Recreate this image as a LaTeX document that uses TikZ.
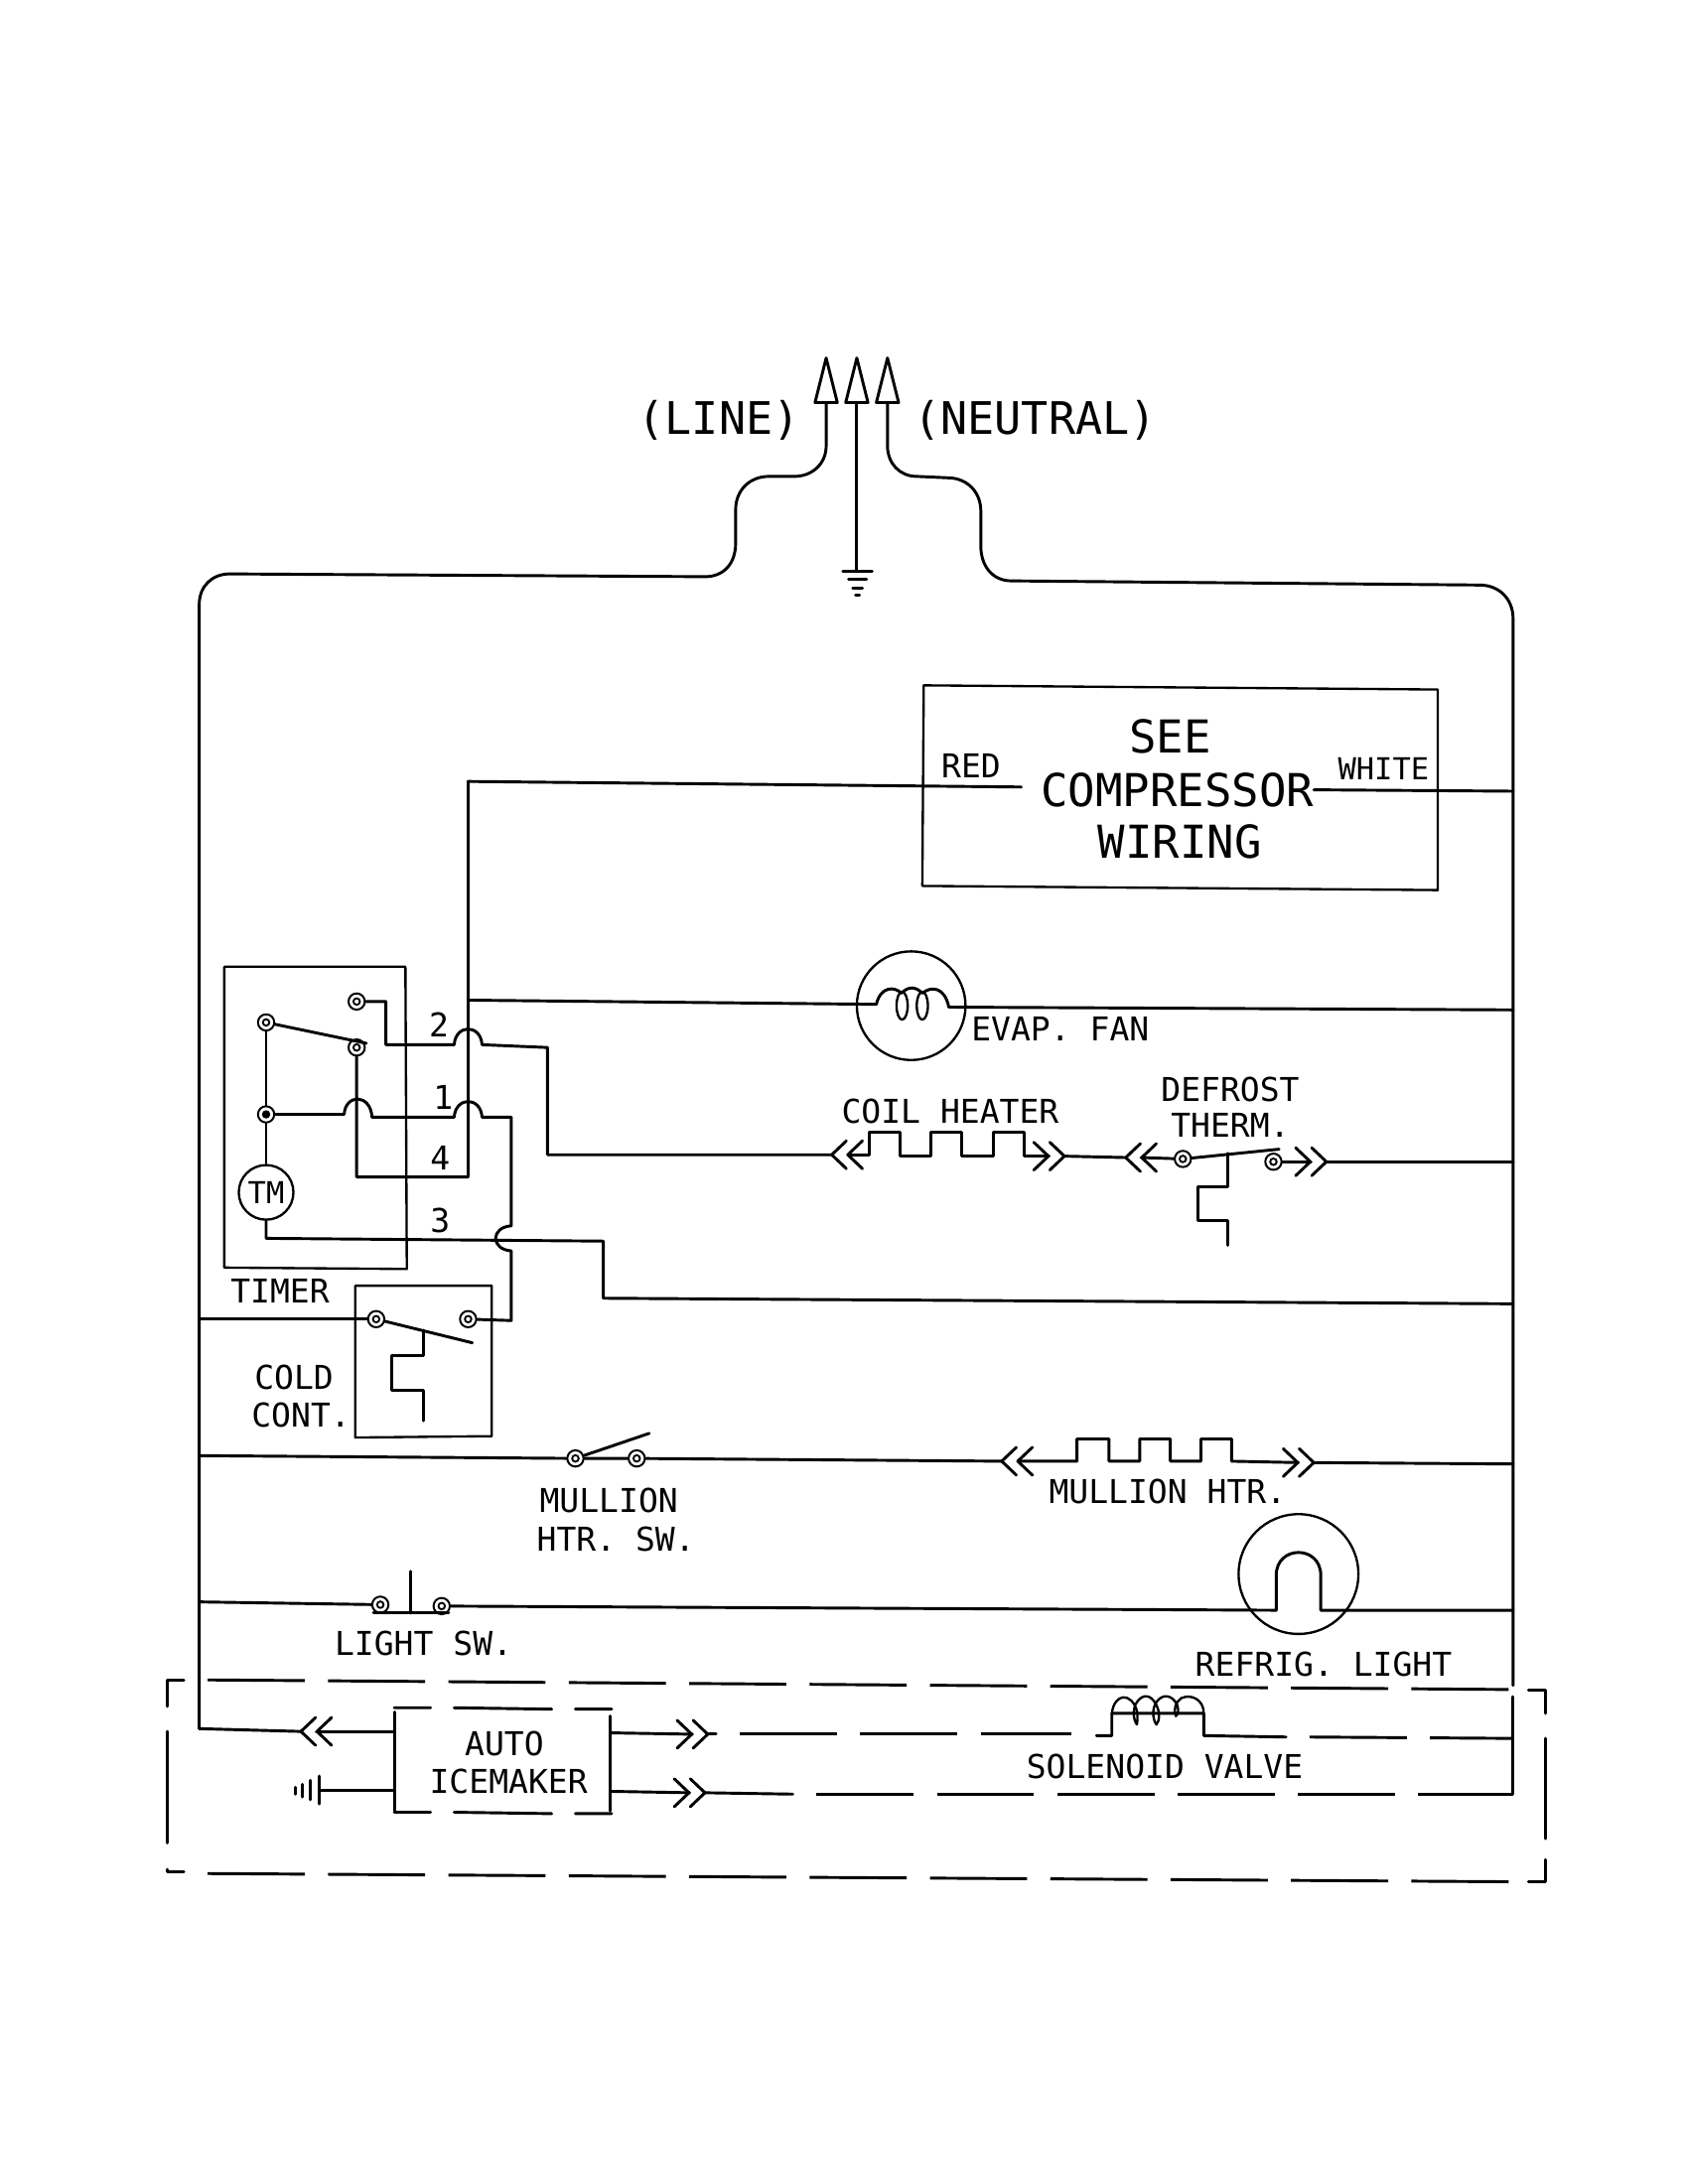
\documentclass[tikz,border=0pt]{standalone}
\usepackage{fontspec}
\setmainfont{DejaVu Sans Mono}
\tikzset{
  wire/.style={line width=2.5pt,line join=round,line cap=round},
  thin wire/.style={line width=2pt,line join=round},
  dashwire/.style={wire,line cap=butt,dash pattern=on 83.5pt off 20pt},
  lab/.style={font=\fontsize{28.2}{30}\selectfont,inner sep=0pt},
  neut/.style={font=\fontsize{38.5}{40}\selectfont,inner sep=0pt},
  big/.style={font=\fontsize{39}{41}\selectfont,inner sep=0pt},
  term/.style={circle,draw,line width=1.7pt,minimum size=14pt,inner sep=0pt,fill=white,
    path picture={\draw[black,line width=1.6pt] (path picture bounding box.center) circle (2.8pt);}},
  termf/.style={circle,draw,line width=1.7pt,minimum size=14pt,inner sep=0pt,fill=white,
    path picture={\fill[black] (path picture bounding box.center) circle (3.6pt);}},
  chevL/.pic={\draw[wire] (10.5,-10)--(0,0)--(10.5,10) (22,-10)--(11.5,0)--(22,10);},
  chevR/.pic={\draw[wire] (-10.5,-10)--(0,0)--(-10.5,10) (-22,-10)--(-11.5,0)--(-22,10);},
}
\begin{document}
\begin{tikzpicture}[x=0.0421cm,y=-0.0421cm]
\useasboundingbox[fill=white] (0,0) rectangle (1208.6,1567.9);
% supply arrows
\coordinate (La) at (593,289);
\coordinate (Ga) at (615,289);
\coordinate (Na) at (637,289);
\draw[wire] (593,257)--(601,289)--(585,289)--cycle;
\draw[wire] (615,257)--(623,289)--(607,289)--cycle;
\draw[wire] (637,257)--(645,289)--(629,289)--cycle;
\coordinate (Gnd) at (615,410);
\draw[wire] (Ga)--(Gnd);
\draw[wire] (605,410)--(626,410) (609,416)--(622,416) (612,422)--(619,422) (614,427)--(617,427);
% rails
\coordinate (LR) at (143,1241);
\coordinate (NR) at (1086,1288);
\draw[wire] (La)--(593,320) .. controls (593,333) and (583,342) .. (570,342) -- (552,342)
  .. controls (538,342) and (528,352) .. (528,366) -- (528,390)
  .. controls (528,404) and (520,414) .. (506,414) -- (165,412)
  .. controls (152,412) and (143,421) .. (143,434) -- (LR);
\draw[wire] (Na)--(637,320) .. controls (637,333) and (646,342) .. (658,342) -- (680,343)
  .. controls (694,343) and (704,353) .. (704,367) -- (704,392)
  .. controls (704,406) and (712,417) .. (726,417) -- (1062,420)
  .. controls (1076,420) and (1086,430) .. (1086,444) -- (1086,1210);
\draw[wire] (1086,1218)--(NR);
\node[neut] (tline) at (516,302) {(LINE)};
\node[neut] (tneut) at (743,302) {(NEUTRAL)};
% compressor
\coordinate (c1) at (663,492); \coordinate (c2) at (1032,495);
\coordinate (c3) at (1032,639); \coordinate (c4) at (662,636);
\draw[thin wire] (c1)--(c2)--(c3)--(c4)--cycle;
\node[big] (see) at (840,529) {SEE};
\node[big] (comp) at (845,567) {COMPRESSOR};
\node[big] (wir) at (847,604) {WIRING};
\node[lab] (red) at (697,550) {RED};
\node[lab,font=\fontsize{26}{28}\selectfont] (white) at (993,552) {WHITE};
\coordinate (cL) at (733,565); \coordinate (cR) at (943,567);
\coordinate (R1) at (1086,568);
\draw[wire] (R1)--(cR);
% timer box
\draw[thin wire] (161,694)--(291,694)--(292,911)--(161,910)--cycle;
\node[term] (T1) at (256,719) {};
\node[term] (T2) at (191,734) {};
\node[term] (T3) at (256,752) {};
\node[termf] (T4) at (191,800) {};
\node[circle,draw,thin wire,minimum size=47pt,inner sep=0pt,font=\fontsize{26}{28}\selectfont] (TM) at (191,856) {TM};
\draw[wire] (T2)--(263,749);
\draw[wire] (T2)--(T4)--(TM);
\coordinate (T4x) at (336,718);
% wire 4 and compressor feed
\draw[wire] (cL)--(336,561)--(336,845)--(256,845)--(T3);
\draw[wire] (T4x)--(629,721);
% wire 2 to coil heater
\coordinate (HL) at (597,829);
\draw[wire] (T1)--(277,719)--(277,750)--(326,750) .. controls (327,735) and (345,735) .. (346,750)
  -- (393,752)--(393,829)--(HL);
% wire 1 to cold control
\node[term] (C1) at (270,947) {};
\node[term] (C2) at (336,947) {};
\draw[wire] (T4)--(247,800) .. controls (248,785) and (266,785) .. (267,802)
  -- (326,802) .. controls (327,787) and (345,787) .. (346,802)
  -- (367,802)--(367,880) .. controls (352,881) and (352,897) .. (367,898)
  -- (367,948)--(C2);
% wire 3
\coordinate (R3) at (1086,936);
\draw[wire] (TM)--(191,889)--(433,891)--(433,932)--(R3);
\node[lab] (n2) at (315,736) {2};
\node[lab] (n1) at (318,788) {1};
\node[lab] (n4) at (316,831) {4};
\node[lab] (n3) at (316,876) {3};
\node[lab] (ttimer) at (201,927) {TIMER};
% cold control
\draw[thin wire] (255,923)--(353,923)--(353,1031)--(255,1032)--cycle;
\coordinate (L1) at (143,947);
\draw[wire] (L1)--(C1);
\draw[wire] (C1)--(339,964);
\draw[wire] (304,955)--(304,973)--(281,973)--(281,998)--(304,998)--(304,1020);
\node[lab] (tcold) at (211,989) {COLD};
\node[lab] (tcont) at (216,1016) {CONT.};
% evap fan
\draw[thin wire] (654,722) circle [radius=39];
\coordinate (R2) at (1086,725);
\draw[wire] (629,721) .. controls (632,708) and (642,708) .. (647,713)
  .. controls (652,708) and (657,708) .. (662,713)
  .. controls (668,708) and (678,708) .. (681,723) -- (R2);
\draw[thin wire] (647.5,722) ellipse [x radius=4,y radius=10];
\draw[thin wire] (662,722) ellipse [x radius=4,y radius=10];
\node[lab] (tevap) at (761,739) {EVAP. FAN};
% coil heater
\pic at (HL) {chevL};
\draw[wire] (609,829)--(624,829)--(624,813)--(646,813)--(646,830)--(668,830)--(668,813)--(690,813)
  --(690,830)--(713,830)--(713,813)--(735,813)--(735,830)--(753,830);
\pic at (764,830) {chevR};
\coordinate (DL) at (808,831);
\draw[wire] (764,830)--(DL);
\pic at (DL) {chevL};
\node[term] (D1) at (849,832) {};
\node[term] (D2) at (914,834) {};
\draw[wire] (819,831)--(D1);
\draw[wire] (D1)--(918,825);
\draw[wire] (881,828)--(881,852)--(860,852)--(860,876)--(881,876)--(881,894);
\coordinate (R4) at (1086,834);
\draw[wire] (D2)--(941,834);
\pic at (952,834) {chevR};
\draw[wire] (952,834)--(R4);
\node[lab] (tcoil) at (682,798) {COIL HEATER};
\node[lab] (tdef) at (883,782) {DEFROST};
\node[lab] (tth) at (883,808) {THERM.};
% mullion
\coordinate (L2) at (143,1045);
\node[term] (M1) at (413,1047) {};
\node[term] (M2) at (457,1047) {};
\draw[wire] (L2)--(M1)--(M2);
\draw[wire] (M1)--(466,1029);
\coordinate (ML) at (719,1049);
\draw[wire] (M2)--(ML);
\pic at (ML) {chevL};
\draw[wire] (731,1049)--(773,1049)--(773,1033)--(796,1033)--(796,1049)--(818,1049)--(818,1033)--(840,1033)
  --(840,1049)--(862,1049)--(862,1033)--(884,1033)--(884,1049)--(932,1050);
\pic at (943,1050) {chevR};
\coordinate (R5) at (1086,1051);
\draw[wire] (943,1050)--(R5);
\node[lab] (tm1) at (437,1077) {MULLION};
\node[lab] (tm2) at (442,1105) {HTR. SW.};
\node[lab] (tm3) at (838,1071) {MULLION HTR.};
% light
\coordinate (L3) at (143,1150);
\node[term] (S1) at (273,1152) {};
\node[term] (S2) at (317,1153) {};
\draw[wire] (L3)--(S1);
\draw[wire] (268,1158)--(322,1158) (295,1128)--(295,1158);
\draw[thin wire] (932,1130) circle [radius=43];
\coordinate (R6) at (1086,1156);
\draw[wire] (S2)--(916,1156)--(916,1131) .. controls (916,1109) and (948,1109) .. (948,1131) -- (948,1156)--(R6);
\node[lab] (tls) at (304,1180) {LIGHT SW.};
\node[lab] (trl) at (950,1195) {REFRIG. LIGHT};
% dashed enclosure
\draw[wire] (132,1206)--(120,1206)--(120,1225);
\draw[wire] (120,1243)--(120,1323);
\draw[wire] (120,1342)--(120,1344)--(132,1344);
\draw[dashwire] (149,1206)--(1098,1213);
\draw[dashwire] (149,1345)--(1098,1351);
\draw[wire] (1097,1213)--(1109,1213)--(1109,1230);
\draw[wire] (1109,1248)--(1109,1320);
\draw[wire] (1109,1335)--(1109,1351)--(1097,1351);
% icemaker
\draw[wire] (283,1226)--(309,1226) (326,1226)--(396,1227) (413,1227)--(439,1227);
\draw[wire] (283,1301)--(309,1301) (326,1301)--(396,1302) (413,1302)--(439,1302);
\draw[wire] (283,1229)--(283,1300) (438,1232)--(438,1300);
\node[lab] (tauto) at (362,1252) {AUTO};
\node[lab] (tice) at (365,1279) {ICEMAKER};
\coordinate (IL) at (216,1243);
\draw[wire] (LR)--(IL);
\pic at (IL) {chevL};
\draw[wire] (227,1243)--(283,1243);
\coordinate (Eg) at (229,1285);
\draw[wire] (283,1285)--(Eg);
\draw[wire] (229,1275)--(229,1295) (223,1278)--(223,1292) (217,1281)--(217,1290) (212,1283)--(212,1288);
\draw[wire] (438,1244)--(497,1245);
\pic at (508,1245) {chevR};
\draw[wire] (508,1245)--(514,1245);
\draw[dashwire] (531,1245)--(769,1245);
\draw[wire] (787,1246)--(798,1246)--(798,1230)--(864,1230)--(864,1246)--(923,1247);
\draw[thin wire] (798,1230) .. controls (800,1215) and (812,1215) .. (816,1228)
  .. controls (817,1233) and (816,1238) .. (816,1238) .. controls (813,1234) and (813,1226) .. (816,1222)
  .. controls (820,1216) and (826,1216) .. (830,1224)
  .. controls (833,1230) and (832,1236) .. (830,1238) .. controls (827,1234) and (827,1226) .. (830,1222)
  .. controls (834,1216) and (841,1216) .. (845,1224) .. controls (846,1228) and (846,1230) .. (844,1232)
  .. controls (842,1226) and (844,1222) .. (848,1219)
  .. controls (855,1216) and (864,1220) .. (864,1230);
\coordinate (R7) at (1086,1248);
\draw[dashwire] (940,1247)--(R7);
\draw[wire] (438,1286)--(495,1287);
\pic at (506,1287) {chevR};
\draw[wire] (506,1287)--(569,1288);
\draw[dashwire] (586,1288)--(NR);
\node[lab] (tsol) at (836,1268) {SOLENOID VALVE};
\end{tikzpicture}
\end{document}
